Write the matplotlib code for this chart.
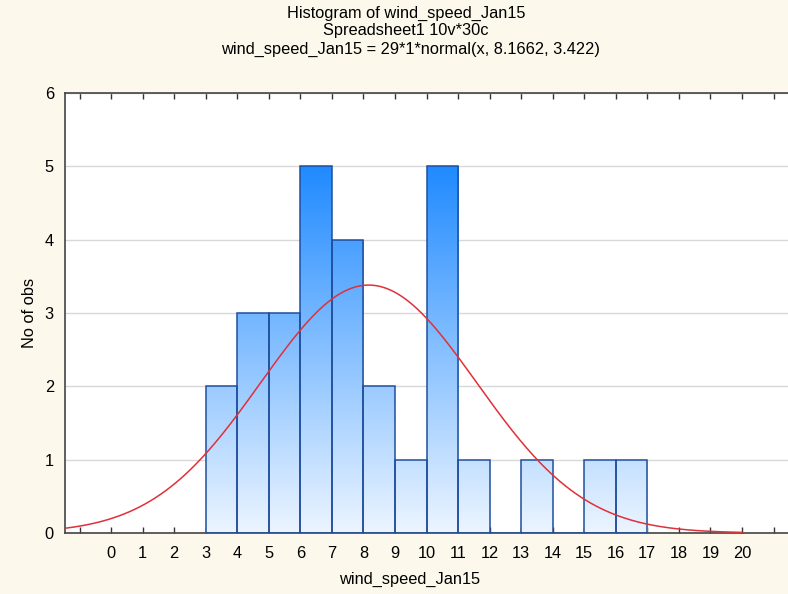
import numpy as np
import matplotlib
matplotlib.use("Agg")
import matplotlib.pyplot as plt

plt.rcParams['font.family'] = ['Liberation Sans', 'DejaVu Sans']

# histogram data
bin_left = [3, 4, 5, 6, 7, 8, 9, 10, 11, 12, 13, 14, 15, 16]
counts = [2, 3, 3, 5, 4, 2, 1, 5, 1, 0, 1, 0, 1, 1]
n_obs = 29
mu = 8.1662
sigma = 3.422
xticks = list(range(0, 21))

bg = '#fcf8ec'
fs = 11.8
fig = plt.figure(figsize=(7.88, 5.94), dpi=100, facecolor=bg)
ax = fig.add_axes([65 / 788, 61 / 594, 723 / 788, 440 / 594])
ax.set_facecolor('white')

x0, x1 = -1.46, (788 - 111) / 31.55
ax.set_xlim(x0, x1)
ax.set_ylim(0, 6)

# gradient image clipped to each bar
top_c = np.array([20, 132, 255]) / 255
bot_c = np.array([236, 245, 255]) / 255
ys = np.linspace(0, 1, 256)[:, None]
grad = bot_c[None, :] * (1 - ys) + top_c[None, :] * ys
grad = grad[:, None, :]

bars = ax.bar(bin_left, counts, width=1, align='edge', facecolor='none',
              edgecolor='#1f4f9e', linewidth=1.1, zorder=3)
for b, c in zip(bars, counts):
    if c == 0:
        continue
    im = ax.imshow(grad, extent=[x0, x1, 0, 5.3], origin='lower',
                   aspect='auto', zorder=2, interpolation='bilinear')
    im.set_clip_path(b)
ax.set_xlim(x0, x1)
ax.set_ylim(0, 6)

xs = np.linspace(x0, 20, 400)
pdf = n_obs * 1 * np.exp(-0.5 * ((xs - mu) / sigma) ** 2) / (sigma * np.sqrt(2 * np.pi))
ax.plot(xs, pdf, color='#e0303a', linewidth=1.1, zorder=4)

ax.yaxis.grid(True, color='#d8d8d8', linewidth=1)
ax.set_axisbelow(True)

ax.set_xticks(xticks)
ax.set_xticks(range(-1, 22), minor=True)
ax.set_yticks(range(0, 7))
ax.tick_params(axis='x', which='both', direction='in', length=4, width=1,
               top=True, color='#333333', labelsize=fs, pad=9)
ax.tick_params(axis='y', length=0, labelsize=fs, pad=8)
for s in ['left', 'bottom', 'top']:
    ax.spines[s].set_color('#444444')
    ax.spines[s].set_linewidth(1.2)
ax.spines['right'].set_visible(False)

fig.text(406 / 788, 1 - 13 / 594, 'Histogram of wind_speed_Jan15', ha='center', va='center', fontsize=fs)
fig.text(406 / 788, 1 - 31 / 594, 'Spreadsheet1 10v*30c', ha='center', va='center', fontsize=fs)
fig.text(410 / 788, 1 - 49 / 594, 'wind_speed_Jan15 = 29*1*normal(x, 8.1662, 3.422)',
         ha='center', va='center', fontsize=fs)
fig.text(410 / 788, 1 - 579 / 594, 'wind_speed_Jan15', ha='center', va='center', fontsize=fs)
fig.text(30 / 788, 1 - 313 / 594, 'No of obs', ha='center', va='center', rotation=90, fontsize=fs)

fig.savefig('out.png', dpi=100, facecolor=bg)
